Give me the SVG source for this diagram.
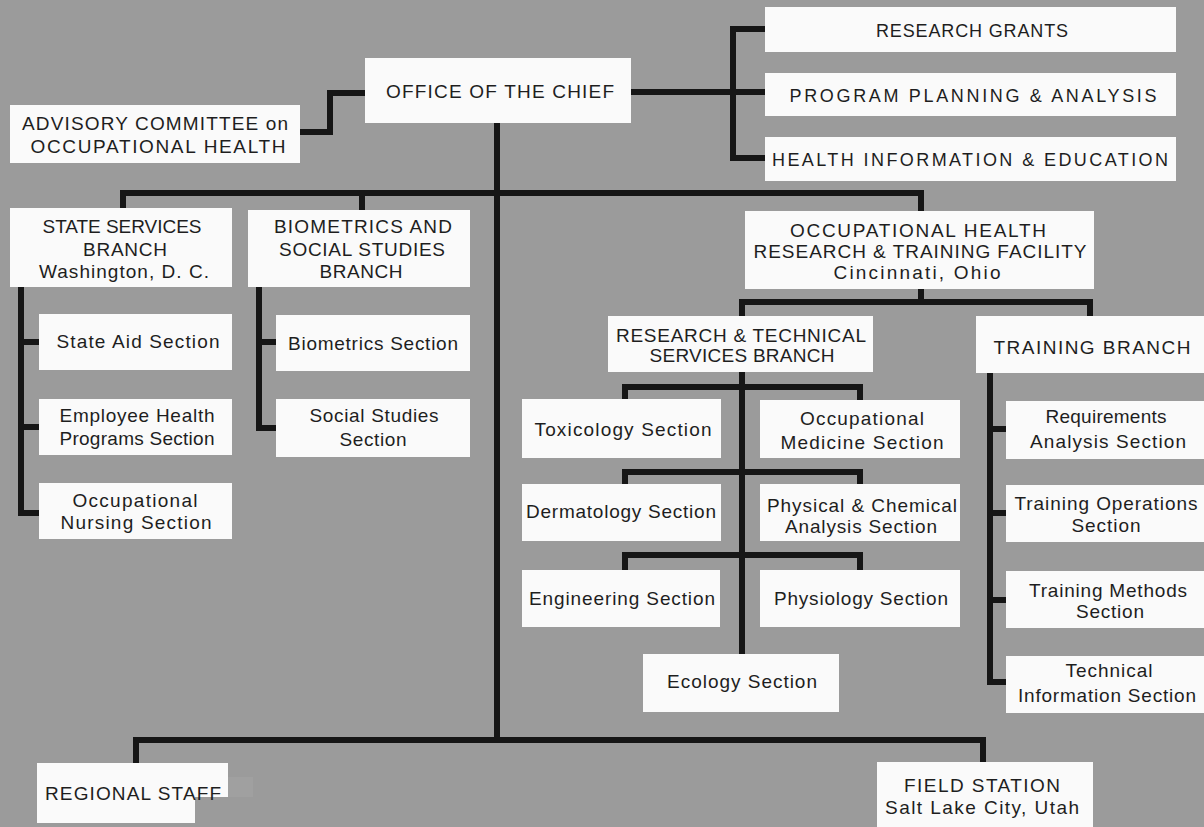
<svg xmlns="http://www.w3.org/2000/svg" width="1204" height="827" viewBox="0 0 1204 827">
<style>
.bx{fill:#fafafa}
.t{font-family:"Liberation Sans",Arial,sans-serif;font-size:19px;fill:#1e1e1e;text-anchor:middle}
.t2{font-family:"Liberation Sans",Arial,sans-serif;font-size:18px;fill:#1e1e1e;text-anchor:middle}
.c{fill:none;stroke:#161616;stroke-width:6;stroke-linejoin:miter;stroke-linecap:butt}
</style>
<rect x="0" y="0" width="1204" height="827" fill="#9b9b9b"/>
<g id="connectors">
<path class="c" d="M300,132 H330 V93 H365"/>
<path class="c" d="M631,92 H765"/>
<path class="c" d="M765,29 H733 V158 H765"/>
<path class="c" d="M497,123 V740"/>
<path class="c" d="M123,208 V193 H921 V211"/>
<path class="c" d="M362,193 V210"/>
<path class="c" d="M21,287 V513 H39 M21,342 H39 M21,427 H39"/>
<path class="c" d="M259,287 V428 H276 M259,342 H276"/>
<path class="c" d="M921,289 V302 M742,316 V302 H1090 V316"/>
<path class="c" d="M742,372 V654"/>
<path class="c" d="M625,400 V387 H860 V400"/>
<path class="c" d="M625,484 V472 H860 V484"/>
<path class="c" d="M625,570 V555 H860 V570"/>
<path class="c" d="M990,373 V682 H1006 M990,429 H1006 M990,513 H1006 M990,600 H1006"/>
<path class="c" d="M136,763 V740 H983 V762"/>
</g>
<g id="office"><rect class="bx" x="365" y="58" width="266" height="65"/><text class="t" x="500" y="98" textLength="228">OFFICE OF THE CHIEF</text></g>
<g id="advisory"><rect class="bx" x="10" y="105" width="290" height="58"/><text class="t" x="155" y="130" textLength="266">ADVISORY COMMITTEE on</text><text class="t" x="158" y="153" textLength="255">OCCUPATIONAL HEALTH</text></g>
<g id="grants"><rect class="bx" x="765" y="7" width="411" height="45"/><text class="t2" x="972" y="37" textLength="192">RESEARCH GRANTS</text></g>
<g id="planning"><rect class="bx" x="765" y="73" width="411" height="43"/><text class="t2" x="973" y="102" textLength="367">PROGRAM PLANNING &amp; ANALYSIS</text></g>
<g id="healthinfo"><rect class="bx" x="765" y="137" width="411" height="44"/><text class="t2" x="970" y="166" textLength="396">HEALTH INFORMATION &amp; EDUCATION</text></g>
<g id="state"><rect class="bx" x="10" y="208" width="222" height="79"/><text class="t" x="122" y="233" textLength="159">STATE SERVICES</text><text class="t" x="125" y="256" textLength="84">BRANCH</text><text class="t" x="124" y="278" textLength="170">Washington, D. C.</text></g>
<g id="biometrics"><rect class="bx" x="248" y="210" width="222" height="77"/><text class="t" x="363" y="233" textLength="178">BIOMETRICS AND</text><text class="t" x="362" y="256" textLength="166">SOCIAL STUDIES</text><text class="t" x="361" y="278" textLength="83">BRANCH</text></g>
<g id="stateaid"><rect class="bx" x="39" y="314" width="193" height="56"/><text class="t" x="138" y="348" textLength="163">State Aid Section</text></g>
<g id="employee"><rect class="bx" x="39" y="399" width="193" height="56"/><text class="t" x="137" y="422" textLength="155">Employee Health</text><text class="t" x="137" y="445" textLength="155">Programs Section</text></g>
<g id="nursing"><rect class="bx" x="39" y="483" width="193" height="56"/><text class="t" x="135" y="507" textLength="125">Occupational</text><text class="t" x="136" y="529" textLength="151">Nursing Section</text></g>
<g id="biosection"><rect class="bx" x="276" y="315" width="194" height="56"/><text class="t" x="373" y="350" textLength="170">Biometrics Section</text></g>
<g id="social"><rect class="bx" x="276" y="399" width="194" height="58"/><text class="t" x="374" y="422" textLength="129">Social Studies</text><text class="t" x="373" y="446" textLength="67">Section</text></g>
<g id="facility"><rect class="bx" x="745" y="211" width="349" height="78"/><text class="t" x="918" y="237" textLength="256">OCCUPATIONAL HEALTH</text><text class="t" x="920" y="258" textLength="333">RESEARCH &amp; TRAINING FACILITY</text><text class="t" x="917" y="279" textLength="167">Cincinnati, Ohio</text></g>
<g id="rts"><rect class="bx" x="608" y="316" width="265" height="56"/><text class="t" x="741" y="342" textLength="250">RESEARCH &amp; TECHNICAL</text><text class="t" x="742" y="362" textLength="185">SERVICES BRANCH</text></g>
<g id="training"><rect class="bx" x="976" y="316" width="228" height="57"/><text class="t" x="1092" y="354" textLength="197">TRAINING BRANCH</text></g>
<g id="toxicology"><rect class="bx" x="522" y="399" width="199" height="59"/><text class="t" x="623" y="436" textLength="177">Toxicology Section</text></g>
<g id="occmed"><rect class="bx" x="760" y="400" width="200" height="58"/><text class="t" x="862" y="425" textLength="124">Occupational</text><text class="t" x="862" y="449" textLength="163">Medicine Section</text></g>
<g id="dermatology"><rect class="bx" x="522" y="484" width="199" height="57"/><text class="t" x="621" y="518" textLength="190">Dermatology Section</text></g>
<g id="physchem"><rect class="bx" x="760" y="484" width="200" height="57"/><text class="t" x="862" y="512" textLength="190">Physical &amp; Chemical</text><text class="t" x="861" y="533" textLength="152">Analysis Section</text></g>
<g id="engineering"><rect class="bx" x="522" y="570" width="198" height="57"/><text class="t" x="622" y="605" textLength="186">Engineering Section</text></g>
<g id="physiology"><rect class="bx" x="760" y="570" width="200" height="57"/><text class="t" x="861" y="605" textLength="174">Physiology Section</text></g>
<g id="ecology"><rect class="bx" x="643" y="654" width="196" height="58"/><text class="t" x="742" y="688" textLength="150">Ecology Section</text></g>
<g id="requirements"><rect class="bx" x="1006" y="401" width="198" height="58"/><text class="t" x="1106" y="423" textLength="121">Requirements</text><text class="t" x="1108" y="448" textLength="156">Analysis Section</text></g>
<g id="trainops"><rect class="bx" x="1006" y="485" width="198" height="57"/><text class="t" x="1106" y="510" textLength="183">Training Operations</text><text class="t" x="1106" y="532" textLength="69">Section</text></g>
<g id="trainmethods"><rect class="bx" x="1006" y="571" width="198" height="57"/><text class="t" x="1108" y="597" textLength="158">Training Methods</text><text class="t" x="1110" y="618" textLength="68">Section</text></g>
<g id="techinfo"><rect class="bx" x="1006" y="656" width="198" height="57"/><text class="t" x="1109" y="677" textLength="87">Technical</text><text class="t" x="1107" y="702" textLength="178">Information Section</text></g>
<g id="fieldstation"><rect class="bx" x="877" y="762" width="216" height="65"/><text class="t" x="982" y="792" textLength="156">FIELD STATION</text><text class="t" x="982" y="814" textLength="194">Salt Lake City, Utah</text></g>
<g id="regional"><rect x="228" y="777" width="25" height="20" fill="#a0a0a0"/><path class="bx" d="M37,763 H228 V797 H195 V823 H37 Z"/><text class="t" x="133" y="800" textLength="176">REGIONAL STAFF</text></g>
</svg>
